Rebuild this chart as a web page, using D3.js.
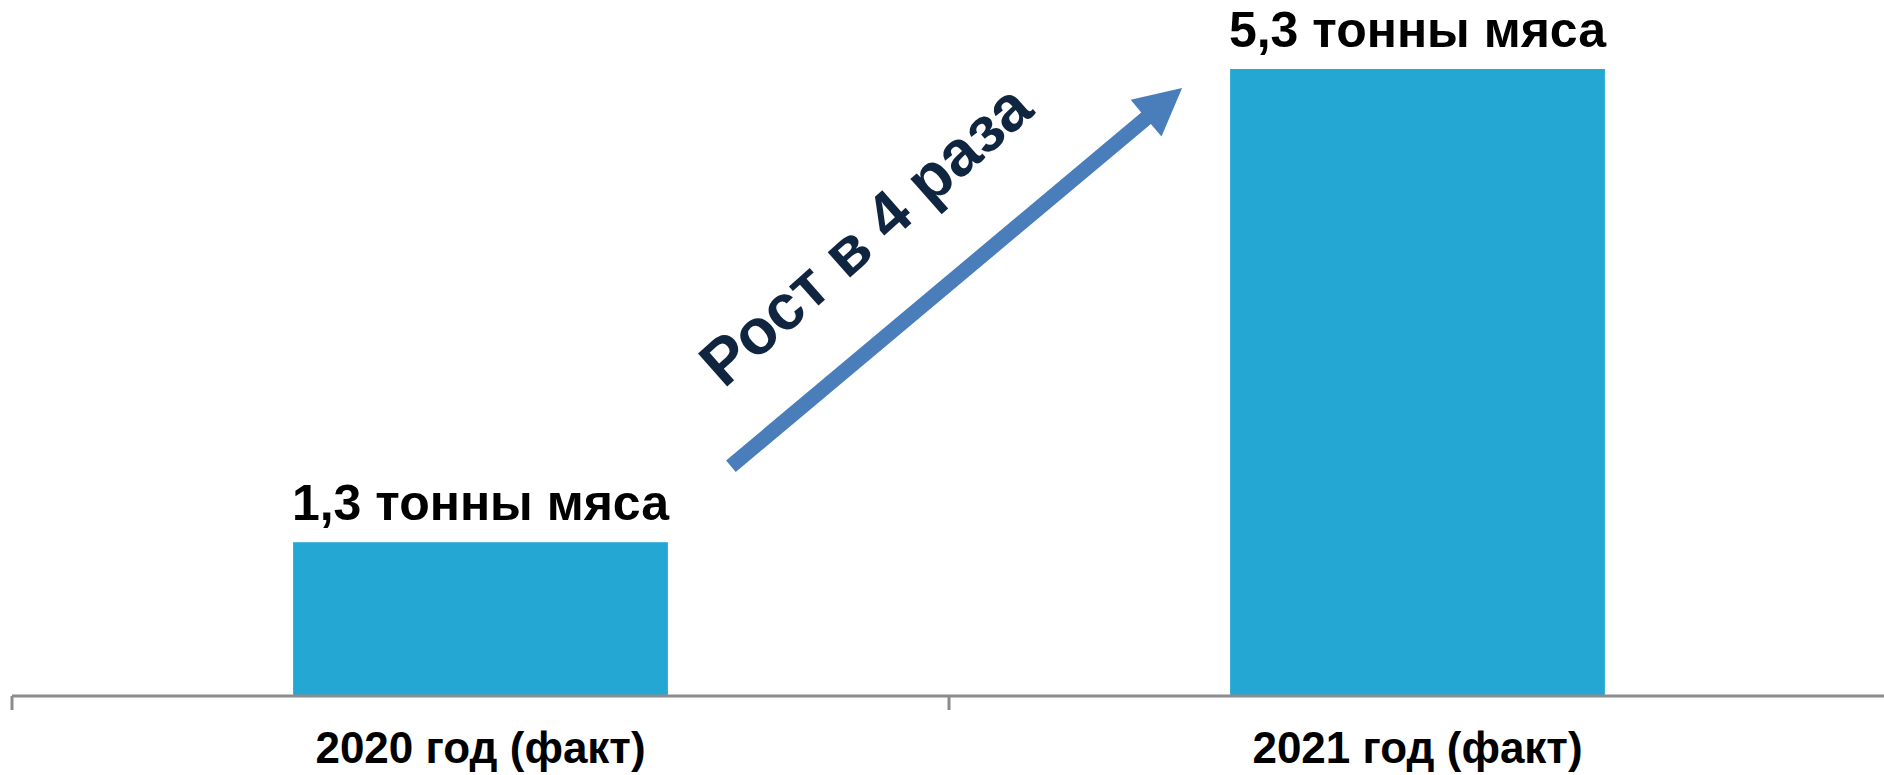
<!DOCTYPE html>
<html>
<head>
<meta charset="utf-8">
<script src="https://cdn.jsdelivr.net/npm/d3@7"></script>
<style>
	html, body { margin: 0; padding: 0; background: #fff; }
	svg { display: block; }
	text { font-family: "Liberation Sans", Arial, sans-serif; font-weight: bold; }
</style>
</head>
<body>
<svg id="chart"></svg>
<script>
// data
var categories = ["2020 год (факт)", "2021 год (факт)"];
var values = [1.3, 5.3];
var valueLabels = ["1,3 тонны мяса", "5,3 тонны мяса"];
var growthLabel = "Рост в 4 раза";

var width = 1884, height = 775;
var baseline = 696;

var svg = d3.select("#chart")
	.attr("width", width)
	.attr("height", height);

var x = d3.scaleBand()
	.domain(categories)
	.range([12, 1886])
	.paddingInner(0.6)
	.paddingOuter(0.3);

var y = d3.scaleLinear()
	.domain([0, d3.max(values)])
	.range([baseline, 69]);

// bars
svg.selectAll("rect.bar")
	.data(values)
	.enter().append("rect")
	.attr("class", "bar")
	.attr("x", function(d, i) { return x(categories[i]); })
	.attr("y", function(d) { return y(d); })
	.attr("width", x.bandwidth())
	.attr("height", function(d) { return baseline - y(d); })
	.attr("fill", "#24A7D3");

// value labels above the bars
svg.selectAll("text.value")
	.data(values)
	.enter().append("text")
	.attr("class", "value")
	.attr("x", function(d, i) { return x(categories[i]) + x.bandwidth() / 2; })
	.attr("y", function(d) { return y(d) - 22; })
	.attr("text-anchor", "middle")
	.attr("font-size", 50)
	.attr("fill", "#000")
	.text(function(d, i) { return valueLabels[i]; });

// x axis: line with ticks at the band boundaries (excel style)
var left = x.range()[0], right = x.range()[1];
var axis = svg.append("g").attr("class", "axis");
axis.append("line")
	.attr("x1", left).attr("x2", right)
	.attr("y1", baseline).attr("y2", baseline)
	.attr("stroke", "#8C8C8C")
	.attr("stroke-width", 3);
axis.selectAll("line.tick")
	.data(categories.concat([null]))
	.enter().append("line")
	.attr("class", "tick")
	.attr("x1", function(d, i) { return left + i * (right - left) / categories.length; })
	.attr("x2", function(d, i) { return left + i * (right - left) / categories.length; })
	.attr("y1", baseline)
	.attr("y2", baseline + 14)
	.attr("stroke", "#8C8C8C")
	.attr("stroke-width", 3);
axis.selectAll("text")
	.data(categories)
	.enter().append("text")
	.attr("x", function(d) { return x(d) + x.bandwidth() / 2; })
	.attr("y", 763)
	.attr("text-anchor", "middle")
	.attr("font-size", 44)
	.attr("fill", "#000")
	.text(function(d) { return d; });

// growth arrow between the two bars
var x0 = x(categories[0]) + x.bandwidth() + 63;
var y0 = y(values[0]) - 76;
var x1 = x(categories[1]) - 48;
var y1 = y(values[1]) + 19;
var angle = Math.atan2(y1 - y0, x1 - x0);
var len = Math.hypot(x1 - x0, y1 - y0);
var headLen = 47, headHalf = 24, shaft = 7.5;

var arrow = svg.append("g")
	.attr("transform", "translate(" + x0 + "," + y0 + ") rotate(" + (angle * 180 / Math.PI) + ")");
arrow.append("path")
	.attr("d", d3.line()([
		[0, -shaft], [len - headLen, -shaft], [len - headLen, -headHalf], [len, 0],
		[len - headLen, headHalf], [len - headLen, shaft], [0, shaft]
	]) + "Z")
	.attr("fill", "#4A7EBB");

// rotated text parallel to the arrow, starting just above its tail
svg.append("text")
	.attr("transform", "translate(" + (x0 - 7) + "," + (y0 - 77) + ") rotate(-41.5)")
	.attr("text-anchor", "start")
	.attr("font-size", 64)
	.attr("fill", "#10253F")
	.text(growthLabel);
</script>
</body>
</html>
